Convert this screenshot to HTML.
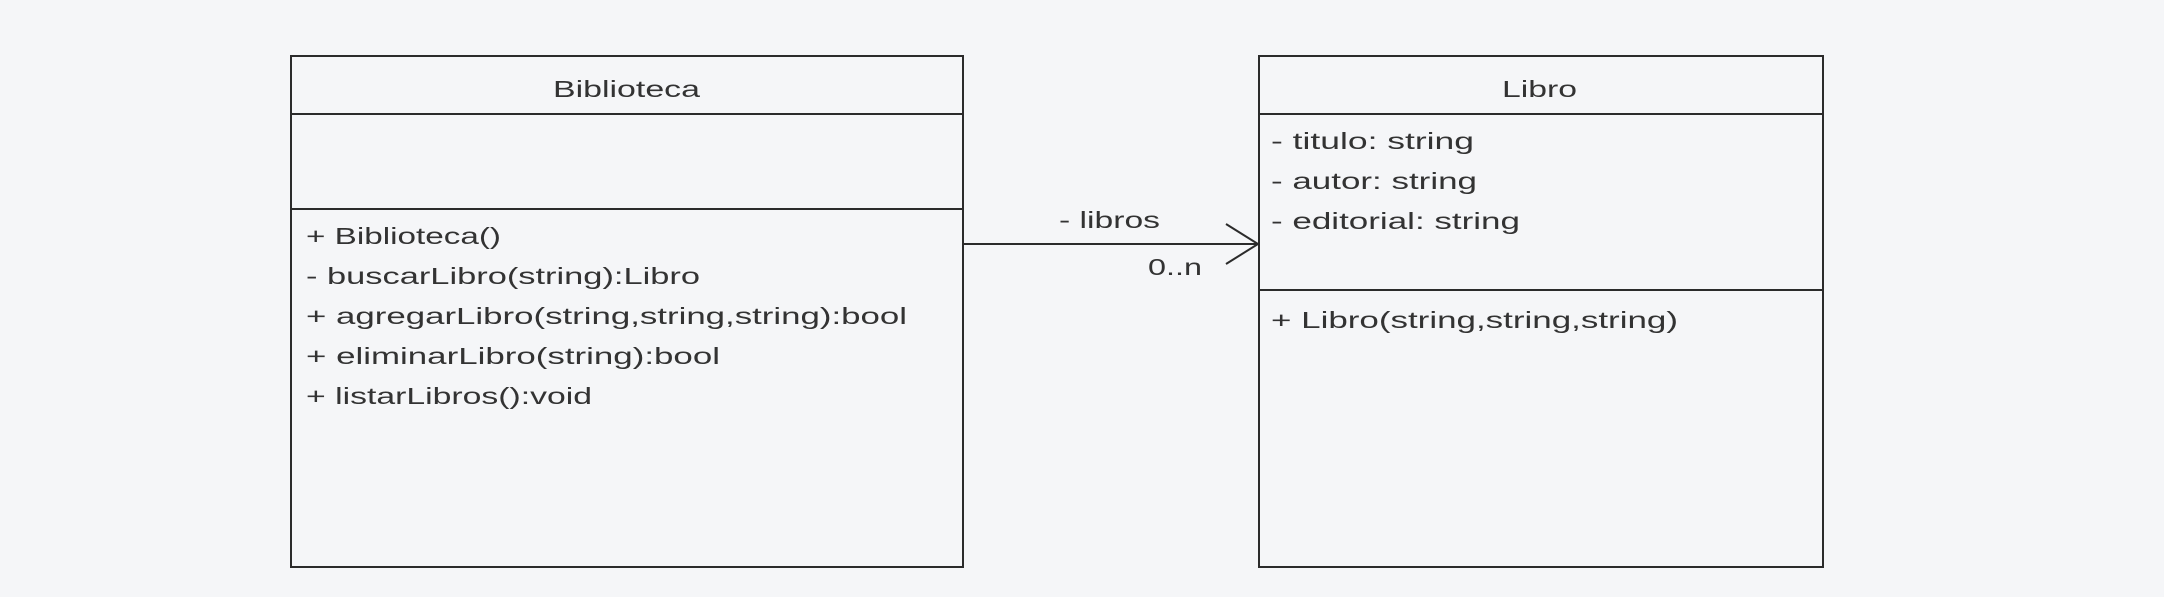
<!DOCTYPE html>
<html><head><meta charset="utf-8"><style>
html,body{margin:0;padding:0;background:#f5f6f8;}
svg{display:block}
text{font-family:"Liberation Sans",sans-serif;font-size:23px;fill:#333}
</style></head><body>
<svg width="2164" height="597" viewBox="0 0 2164 597" xmlns="http://www.w3.org/2000/svg">
<rect width="2164" height="597" fill="#f5f6f8"/>
<g stroke="#2b2b2b" stroke-width="2" fill="none">
<rect x="291" y="56" width="672" height="511"/>
<line x1="291" y1="114" x2="963" y2="114"/>
<line x1="291" y1="209" x2="963" y2="209"/>
<rect x="1259" y="56" width="564" height="511"/>
<line x1="1259" y1="114" x2="1823" y2="114"/>
<line x1="1259" y1="290" x2="1823" y2="290"/>
<line x1="963" y1="244" x2="1259" y2="244"/>
<polyline points="1226,224 1258,244 1226,264"/>
</g>
<text x="553" y="97" textLength="147" lengthAdjust="spacingAndGlyphs">Biblioteca</text>
<text x="306" y="244" textLength="195" lengthAdjust="spacingAndGlyphs">+ Biblioteca()</text>
<text x="306" y="284" textLength="394" lengthAdjust="spacingAndGlyphs">- buscarLibro(string):Libro</text>
<text x="306" y="324" textLength="601" lengthAdjust="spacingAndGlyphs">+ agregarLibro(string,string,string):bool</text>
<text x="306" y="364" textLength="414" lengthAdjust="spacingAndGlyphs">+ eliminarLibro(string):bool</text>
<text x="306" y="404" textLength="286" lengthAdjust="spacingAndGlyphs">+ listarLibros():void</text>
<text x="1502" y="97" textLength="75" lengthAdjust="spacingAndGlyphs">Libro</text>
<text x="1271" y="149" textLength="203" lengthAdjust="spacingAndGlyphs">- titulo: string</text>
<text x="1271" y="189" textLength="206" lengthAdjust="spacingAndGlyphs">- autor: string</text>
<text x="1271" y="229" textLength="249" lengthAdjust="spacingAndGlyphs">- editorial: string</text>
<text x="1271" y="328" textLength="407" lengthAdjust="spacingAndGlyphs">+ Libro(string,string,string)</text>
<text x="1059" y="228" textLength="101" lengthAdjust="spacingAndGlyphs">- libros</text>
<text x="1148" y="275" textLength="54" lengthAdjust="spacingAndGlyphs">0..n</text>
</svg>
</body></html>
